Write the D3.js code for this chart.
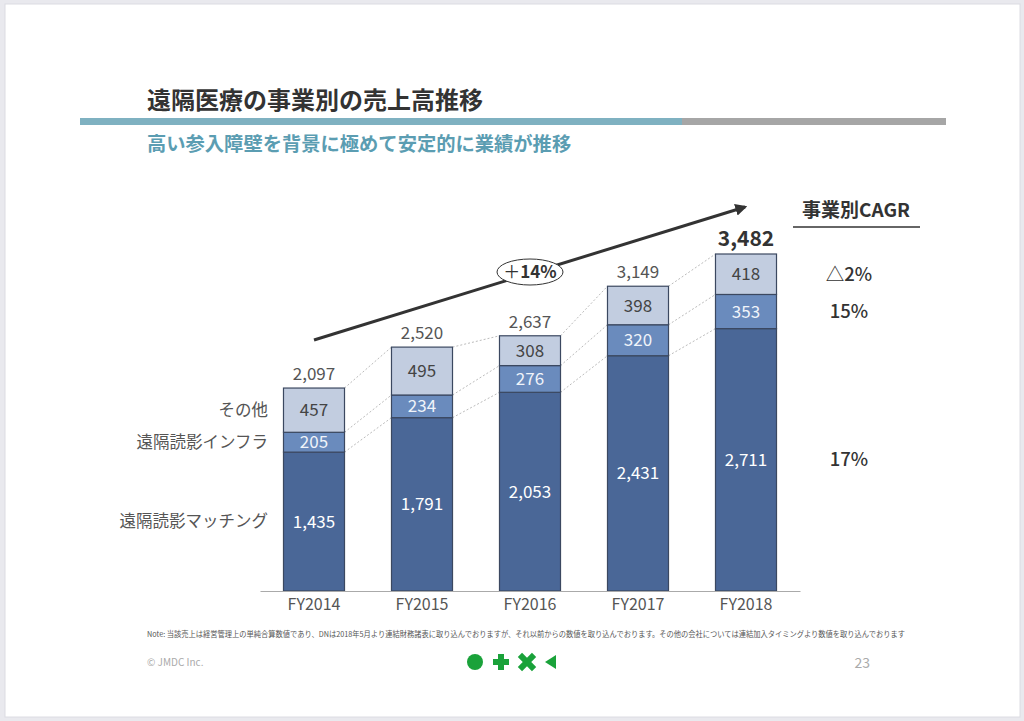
<!DOCTYPE html>
<html>
<head>
<meta charset="utf-8">
<script src="https://cdn.jsdelivr.net/npm/d3@7"></script>
<style>
  body { margin: 0; background: #e9e9ee; }
  svg { display: block; font-family: "Noto Sans CJK JP", "Noto Sans", sans-serif; }
</style>
</head>
<body>
<div id="container"></div>
<script>
/* DATA */
const years = ["FY2014", "FY2015", "FY2016", "FY2017", "FY2018"]
const seriesNames = ["遠隔読影マッチング", "遠隔読影インフラ", "その他"]
const matching = [1435, 1791, 2053, 2431, 2711]
const infra = [205, 234, 276, 320, 353]
const other = [457, 495, 308, 398, 418]
const totals = [2097, 2520, 2637, 3149, 3482]
const cagrLabels = ["17%", "15%", "△2%"]

/* CONSTANTS */
const width = 1024, height = 721
const colors = ["#4a6797", "#6a8bbd", "#c2cde0"]
const labelColors = ["#ffffff", "#f0f4fa", "#444444"]

const svg = d3.select("#container").append("svg")
  .attr("width", width)
  .attr("height", height)

// slide page
svg.append("rect")
  .attr("x", 5).attr("y", 4)
  .attr("width", 1015).attr("height", 713)
  .attr("fill", "#fff")
  .attr("stroke", "#dcdce2")

// TITLE
svg.append("text")
  .attr("x", 147).attr("y", 109)
  .attr("font-size", 24).attr("font-weight", 700)
  .attr("fill", "#333")
  .text("遠隔医療の事業別の売上高推移")

svg.append("rect").attr("x", 80).attr("y", 118).attr("width", 602).attr("height", 7).attr("fill", "#7fb1c1")
svg.append("rect").attr("x", 682).attr("y", 118).attr("width", 264).attr("height", 7).attr("fill", "#a6a6a6")

svg.append("text")
  .attr("x", 147).attr("y", 151)
  .attr("font-size", 19.3).attr("font-weight", 700)
  .attr("fill", "#5b9db2")
  .text("高い参入障壁を背景に極めて安定的に業績が推移")

/* STACK */
const rows = years.map((y, i) => ({year: y, a: matching[i], b: infra[i], c: other[i]}))
const stacked = d3.stack().keys(["a", "b", "c"])(rows)

// SCALES
const xScale = d3.scaleBand()
  .domain(years)
  .range([260, 800])
  .paddingInner(0.435)
  .paddingOuter(0.2175)

const yScale = d3.scaleLinear()
  .domain([0, 3482])
  .range([591, 254])

// dotted connectors between bars
const conn = svg.append("g")
  .attr("stroke", "#aaa")
  .attr("stroke-width", 0.8)
  .attr("stroke-dasharray", "2,2")
stacked.forEach(layer => {
  for (let i = 0; i < years.length - 1; i++) {
    conn.append("line")
      .attr("x1", xScale(years[i]) + xScale.bandwidth())
      .attr("y1", yScale(layer[i][1]))
      .attr("x2", xScale(years[i + 1]))
      .attr("y2", yScale(layer[i + 1][1]))
  }
})

// BARS
const layers = svg.selectAll(".layer")
  .data(stacked)
  .join("g")
  .attr("class", "layer")
  .attr("fill", (d, i) => colors[i])

layers.selectAll("rect")
  .data(d => d)
  .join("rect")
  .attr("x", d => xScale(d.data.year))
  .attr("y", d => yScale(d[1]))
  .attr("width", xScale.bandwidth())
  .attr("height", d => yScale(d[0]) - yScale(d[1]))
  .attr("stroke", "#3b4860")
  .attr("stroke-width", 1.2)

layers.each(function(layer, li) {
  d3.select(this).selectAll("text")
    .data(layer)
    .join("text")
    .attr("x", d => xScale(d.data.year) + xScale.bandwidth() / 2)
    .attr("y", d => (yScale(d[0]) + yScale(d[1])) / 2)
    .attr("dy", "0.36em")
    .attr("text-anchor", "middle")
    .attr("font-size", 17)
    .attr("fill", labelColors[li])
    .text(d => d3.format(",")(d[1] - d[0]))
})

// totals
svg.selectAll(".total")
  .data(years)
  .join("text")
  .attr("class", "total")
  .attr("x", d => xScale(d) + xScale.bandwidth() / 2)
  .attr("y", (d, i) => yScale(totals[i]) - 8)
  .attr("text-anchor", "middle")
  .attr("font-size", (d, i) => i === 4 ? 21 : 17)
  .attr("font-weight", (d, i) => i === 4 ? 700 : 400)
  .attr("fill", (d, i) => i === 4 ? "#333" : "#555")
  .text((d, i) => d3.format(",")(totals[i]))

// AXIS
const xAxis = d3.axisBottom(xScale).tickSize(0).tickPadding(8)
const xAxisGroup = svg.append("g")
  .attr("transform", `translate(0, 591)`)
  .call(xAxis)
xAxisGroup.select(".domain").attr("stroke", "#aaa").attr("stroke-width", 1.2)
xAxisGroup.selectAll("text")
  .attr("font-size", 16)
  .attr("fill", "#555")
  .attr("font-family", "\"Noto Sans CJK JP\", sans-serif")

// left series labels (next to first bar)
const first = 0
svg.selectAll(".serieslabel")
  .data(stacked)
  .join("text")
  .attr("class", "serieslabel")
  .attr("x", 268)
  .attr("y", d => (yScale(d[first][0]) + yScale(d[first][1])) / 2)
  .attr("dy", "0.36em")
  .attr("text-anchor", "end")
  .attr("font-size", 16.5)
  .attr("fill", "#555")
  .text((d, i) => seriesNames[i])

// GROWTH ARROW
svg.append("defs").append("marker")
  .attr("id", "arrow")
  .attr("viewBox", "0 0 10 10")
  .attr("refX", 8).attr("refY", 5)
  .attr("markerWidth", 4).attr("markerHeight", 4)
  .attr("orient", "auto")
  .append("path")
  .attr("d", "M0,0 L10,5 L0,10 z")
  .attr("fill", "#333")

svg.append("line")
  .attr("x1", 314).attr("y1", 340)
  .attr("x2", 745).attr("y2", 207)
  .attr("stroke", "#333")
  .attr("stroke-width", 3)
  .attr("marker-end", "url(#arrow)")

svg.append("ellipse")
  .attr("cx", 530).attr("cy", 272)
  .attr("rx", 33).attr("ry", 13)
  .attr("fill", "#fff")
  .attr("stroke", "#333")
  .attr("stroke-width", 1)

const growth = svg.append("text")
  .attr("x", 530).attr("y", 272)
  .attr("dy", "0.36em")
  .attr("text-anchor", "middle")
  .attr("font-size", 17)
  .attr("fill", "#333")
growth.append("tspan").text("＋")
growth.append("tspan").attr("font-weight", 700).text("14%")

// CAGR column
svg.append("text")
  .attr("x", 856).attr("y", 217)
  .attr("text-anchor", "middle")
  .attr("font-size", 19).attr("font-weight", 700)
  .attr("fill", "#333")
  .text("事業別CAGR")
svg.append("line")
  .attr("x1", 793).attr("x2", 920)
  .attr("y1", 227).attr("y2", 227)
  .attr("stroke", "#333").attr("stroke-width", 1.5)

const last = years.length - 1
svg.selectAll(".cagr")
  .data(stacked)
  .join("text")
  .attr("class", "cagr")
  .attr("x", 849)
  .attr("y", d => (yScale(d[last][0]) + yScale(d[last][1])) / 2)
  .attr("dy", "0.36em")
  .attr("text-anchor", "middle")
  .attr("font-size", 18.5)
  .attr("font-weight", 500)
  .attr("fill", "#333")
  .text((d, i) => cagrLabels[i])

// NOTE + FOOTER
svg.append("text")
  .attr("x", 147).attr("y", 637)
  .attr("font-size", 7.5)
  .attr("fill", "#555")
  .attr("textLength", 758)
  .attr("lengthAdjust", "spacingAndGlyphs")
  .text("Note: 当該売上は経営管理上の単純合算数値であり、DNは2018年5月より連結財務諸表に取り込んでおりますが、それ以前からの数値を取り込んでおります。その他の会社については連結加入タイミングより数値を取り込んでおります")

svg.append("text")
  .attr("x", 147).attr("y", 666)
  .attr("font-size", 10)
  .attr("fill", "#aaa")
  .text("© JMDC Inc.")

svg.append("text")
  .attr("x", 870).attr("y", 668)
  .attr("text-anchor", "end")
  .attr("font-size", 14)
  .attr("fill", "#aaa")
  .text("23")

const icons = svg.append("g").attr("fill", "#1aa23a")
icons.append("circle").attr("cx", 475).attr("cy", 662).attr("r", 8)
icons.append("path").attr("d", "M498,654 h6 v5 h5 v6 h-5 v5 h-6 v-5 h-5 v-6 h5 z")
icons.append("g").attr("transform", "translate(527,662) rotate(45)")
  .append("path").attr("d", "M-3,-10 h6 v7 h7 v6 h-7 v7 h-6 v-7 h-7 v-6 h7 z")
icons.append("path").attr("d", "M556,655 L556,669 L545,662 z")
</script>
</body>
</html>
